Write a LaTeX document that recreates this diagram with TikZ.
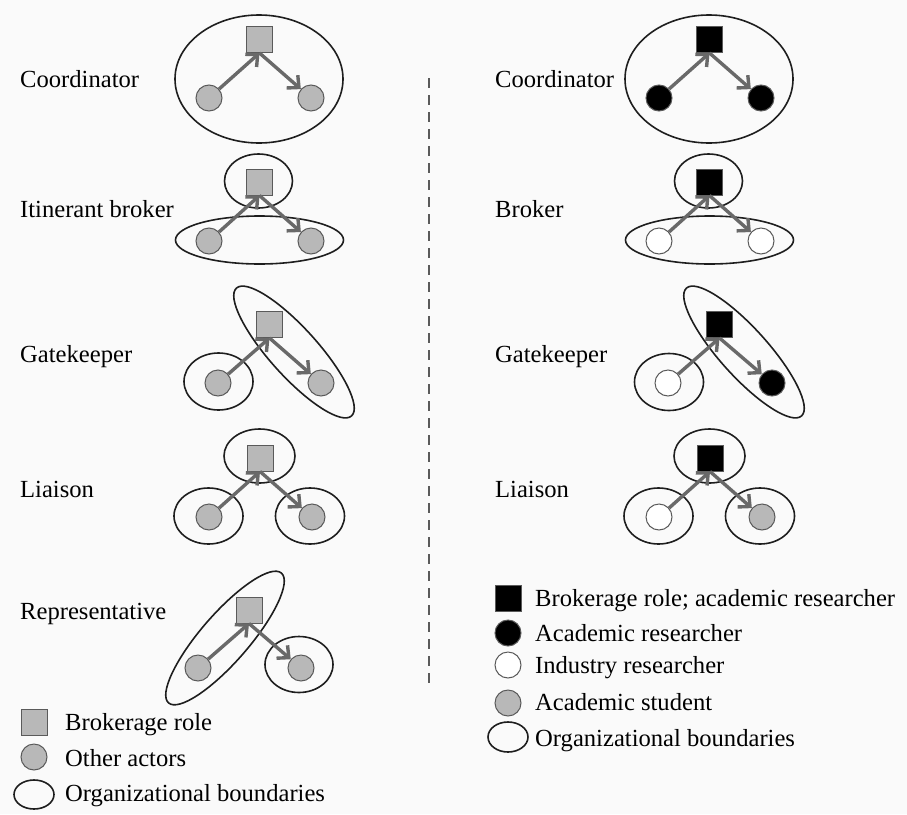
\documentclass[tikz,border=0pt]{standalone}
\usepackage{fontspec}
\setmainfont{Liberation Serif}
\usetikzlibrary{arrows.meta}

\definecolor{bg}{RGB}{250,250,250}
\definecolor{actor}{RGB}{184,184,184}
\definecolor{rim}{RGB}{90,90,90}
\definecolor{link}{RGB}{105,105,105}
\definecolor{border}{RGB}{30,30,30}

\tikzset{
  role/.style={rectangle, minimum size=26pt, inner sep=0pt, fill=actor, draw=rim, line width=1pt},
  rolebk/.style={role, fill=black, draw=rim},
  actorc/.style={circle, minimum size=26pt, inner sep=0pt, fill=actor, draw=rim, line width=1pt},
  actorbk/.style={actorc, fill=black},
  actorwh/.style={actorc, fill=white},
  tie/.style={draw=link, line width=3.4pt, -{Straight Barb[length=9pt,width=17pt]}},
  org/.style={draw=border, line width=1.6pt},
  lbl/.style={inner sep=0pt, anchor=base west, font=\fontsize{24.6pt}{28pt}\selectfont},
}

\begin{document}
\begin{tikzpicture}[x=1pt, y=-1pt]
  \fill[bg] (0,0) rectangle (907,814);
  \useasboundingbox (0,0) rectangle (907,814);

  % ---------- left column: generic roles ----------
  % Coordinator
  \draw[org] (259,79) ellipse [x radius=84pt, y radius=64pt];
  \node[role]   (lcS) at (259.5,39.5) {};
  \node[actorc] (lcA) at (209,98) {};
  \node[actorc] (lcB) at (311,98) {};
  \draw[tie] (lcA) -- (lcS.south);
  \draw[tie] (lcS.south) -- (lcB);
  \node[lbl] (lcL) at (20,87) {Coordinator};

  % Itinerant broker
  \draw[org] (258.5,181) ellipse [x radius=34pt, y radius=27pt];
  \draw[org] (259.5,240) ellipse [x radius=84pt, y radius=24pt];
  \node[role]   (liS) at (259.5,182) {};
  \node[actorc] (liA) at (209,241) {};
  \node[actorc] (liB) at (311,241) {};
  \draw[tie] (liA) -- (liS.south);
  \draw[tie] (liS.south) -- (liB);
  \node[lbl] (liL) at (20,217) {Itinerant broker};

  % Gatekeeper
  \draw[org] (218.5,381.5) ellipse [x radius=34.5pt, y radius=28.5pt];
  \draw[org, shift={(294,352)}, rotate=-48] (0,0) ellipse [x radius=86pt, y radius=24pt];
  \node[role]   (lgS) at (269.5,324.5) {};
  \node[actorc] (lgA) at (218,383) {};
  \node[actorc] (lgB) at (321,383) {};
  \draw[tie] (lgA) -- (lgS.south);
  \draw[tie] (lgS.south) -- (lgB);
  \node[lbl] (lgL) at (20,362) {Gatekeeper};

  % Liaison
  \draw[org] (259.5,456) ellipse [x radius=35.5pt, y radius=27pt];
  \draw[org] (208.5,516) ellipse [x radius=34.5pt, y radius=28pt];
  \draw[org] (310,516) ellipse [x radius=34.5pt, y radius=28pt];
  \node[role]   (llS) at (260,458) {};
  \node[actorc] (llA) at (209,517) {};
  \node[actorc] (llB) at (312,517) {};
  \draw[tie] (llA) -- (llS.south);
  \draw[tie] (llS.south) -- (llB);
  \node[lbl] (llL) at (20,497) {Liaison};

  % Representative
  \draw[org] (299,664.5) ellipse [x radius=34pt, y radius=28pt];
  \draw[org, shift={(225,638)}, rotate=49] (0,0) ellipse [x radius=86pt, y radius=24pt];
  \node[role]   (lrS) at (249,610) {};
  \node[actorc] (lrA) at (198,668) {};
  \node[actorc] (lrB) at (301,668) {};
  \draw[tie] (lrA) -- (lrS.south);
  \draw[tie] (lrS.south) -- (lrB);
  \node[lbl] (lrL) at (20,619) {Representative};

  % left legend
  \node[role]   (lkS) at (34,722) {};
  \node[actorc] (lkA) at (34,757) {};
  \draw[org] (34,794.5) ellipse [x radius=20pt, y radius=14.5pt];
  \node[lbl] (lk1) at (65,730) {Brokerage role};
  \node[lbl] (lk2) at (65,766) {Other actors};
  \node[lbl] (lk3) at (65,801) {Organizational boundaries};

  % ---------- separator ----------
  \draw[draw=rim, line width=2pt, dash pattern=on 10pt off 7pt] (429,78) -- (429,690);

  % ---------- right column: academic / industry roles ----------
  % Coordinator
  \draw[org] (709,79) ellipse [x radius=84pt, y radius=64pt];
  \node[rolebk]  (rcS) at (709.5,39.5) {};
  \node[actorbk] (rcA) at (659,98) {};
  \node[actorbk] (rcB) at (761,98) {};
  \draw[tie] (rcA) -- (rcS.south);
  \draw[tie] (rcS.south) -- (rcB);
  \node[lbl] (rcL) at (495,87) {Coordinator};

  % Broker
  \draw[org] (708.5,181) ellipse [x radius=34pt, y radius=27pt];
  \draw[org] (709.5,240) ellipse [x radius=84pt, y radius=24pt];
  \node[rolebk]  (riS) at (709.5,182) {};
  \node[actorwh] (riA) at (659,241) {};
  \node[actorwh] (riB) at (761,241) {};
  \draw[tie] (riA) -- (riS.south);
  \draw[tie] (riS.south) -- (riB);
  \node[lbl] (riL) at (495,217) {Broker};

  % Gatekeeper
  \draw[org] (669,382) ellipse [x radius=34.5pt, y radius=28.5pt];
  \draw[org, shift={(744,352)}, rotate=-48] (0,0) ellipse [x radius=86pt, y radius=24pt];
  \node[rolebk]  (rgS) at (719.5,324.5) {};
  \node[actorwh] (rgA) at (668,383) {};
  \node[actorbk] (rgB) at (772,383) {};
  \draw[tie] (rgA) -- (rgS.south);
  \draw[tie] (rgS.south) -- (rgB);
  \node[lbl] (rgL) at (495,362) {Gatekeeper};

  % Liaison
  \draw[org] (709.5,456) ellipse [x radius=35.5pt, y radius=27pt];
  \draw[org] (658.5,516) ellipse [x radius=34.5pt, y radius=28pt];
  \draw[org] (760,516) ellipse [x radius=34.5pt, y radius=28pt];
  \node[rolebk]  (rlS) at (710,458) {};
  \node[actorwh] (rlA) at (659,517) {};
  \node[actorc]  (rlB) at (762,517) {};
  \draw[tie] (rlA) -- (rlS.south);
  \draw[tie] (rlS.south) -- (rlB);
  \node[lbl] (rlL) at (495,497) {Liaison};

  % right legend
  \node[rolebk]  (rkS) at (508,598.5) {};
  \node[actorbk] (rkA) at (508,633) {};
  \node[actorwh] (rkB) at (508,665) {};
  \node[actorc]  (rkC) at (508,703) {};
  \draw[org] (508,737) ellipse [x radius=20pt, y radius=15pt];
  \node[lbl] (rk1) at (535,606) {Brokerage role; academic researcher};
  \node[lbl] (rk2) at (535,641) {Academic researcher};
  \node[lbl] (rk3) at (535,673) {Industry researcher};
  \node[lbl] (rk4) at (535,710) {Academic student};
  \node[lbl] (rk5) at (535,746) {Organizational boundaries};
\end{tikzpicture}
\end{document}
